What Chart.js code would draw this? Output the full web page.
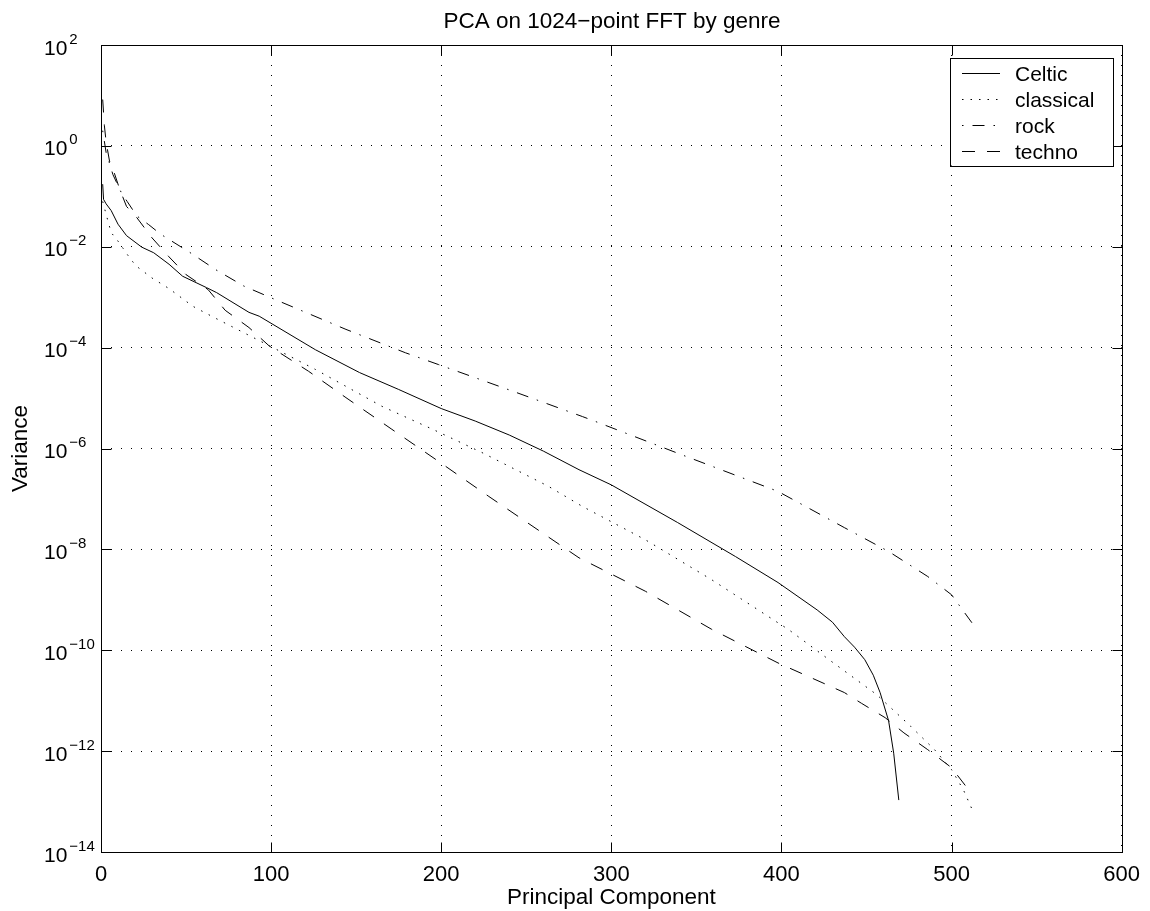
<!DOCTYPE html>
<html>
<head>
<meta charset="utf-8">
<title>PCA on 1024-point FFT by genre</title>
<script src="https://cdn.jsdelivr.net/npm/chart.js@4.4.1/dist/chart.umd.min.js"></script>
<style>
  html, body { margin: 0; padding: 0; background: #fff; }
  #chart { display: block; }
</style>
</head>
<body>
<canvas id="chart" width="1150" height="911"></canvas>
<script>
// values: principal component index -> variance
const celticComp = [1, 1.5, 3, 6, 10, 15, 24, 31, 40, 48, 62, 68, 87, 93, 126, 152, 175, 200, 220, 240, 260, 281, 300, 339, 373, 398, 421, 430, 437, 443, 449, 454, 458, 463, 466, 469];
const celticVar = [1.74e-1, 8.7e-2, 7.1e-2, 5.2e-2, 2.8e-2, 1.66e-2, 9.8e-3, 7.6e-3, 4.5e-3, 2.6e-3, 1.55e-3, 1.23e-3, 5.0e-4, 4.2e-4, 9.1e-5, 3.2e-5, 1.48e-5, 6.2e-6, 3.5e-6, 1.85e-6, 8.9e-7, 3.8e-7, 1.9e-7, 3.4e-8, 7.2e-9, 2.2e-9, 6.3e-10, 3.6e-10, 1.86e-10, 1.15e-10, 6.5e-11, 3.2e-11, 1.45e-11, 4.0e-12, 9.1e-13, 1.07e-13];

const classicalComp = [1, 3, 6, 9.4, 12.5, 16.6, 20.5, 30, 40, 54, 65, 107, 126, 165, 195, 224, 263, 283, 320, 359, 398, 404, 428, 456, 476, 490, 500, 507, 512];
const classicalVar = [7.9e-2, 4.4e-2, 1.9e-2, 1.38e-2, 9.8e-3, 6.2e-3, 4.2e-3, 2.4e-3, 1.48e-3, 6.6e-4, 4.2e-4, 7.9e-5, 3.7e-5, 6.9e-6, 2.4e-6, 8.3e-7, 1.78e-7, 7.1e-8, 1.55e-8, 2.5e-9, 3.5e-10, 2.6e-10, 6.5e-11, 1.32e-11, 3.1e-12, 1.07e-12, 4.3e-13, 1.7e-13, 7.1e-14];

const rockComp = [1, 3, 5, 7, 12, 15.4, 21, 28, 35, 52, 67.5, 84, 102, 144, 179, 198.5, 240, 283, 292, 341, 398, 437, 463, 486, 500, 512];
const rockVar = [2.0, 7.4e-1, 4.5e-1, 2.7e-1, 1.17e-1, 7.9e-2, 4.1e-2, 2.75e-2, 1.78e-2, 7.8e-3, 3.5e-3, 1.66e-3, 9.1e-4, 2.3e-4, 7.9e-5, 4.6e-5, 1.45e-5, 4.3e-6, 3.3e-6, 7.6e-7, 1.41e-7, 2.7e-8, 9.1e-9, 2.9e-9, 1.26e-9, 3.5e-10];

const technoComp = [1, 2, 3, 5, 7, 11, 15, 21, 30, 40, 50, 63, 73, 87, 99, 122, 144, 171, 197, 228, 281, 298, 320, 359, 398, 418, 437, 447, 461, 472, 486, 500, 508.5, 510];
const technoVar = [8.3, 2.5, 1.2, 5.0e-1, 3.5e-1, 1.38e-1, 6.3e-2, 3.8e-2, 1.5e-2, 6.3e-3, 2.8e-3, 1.41e-3, 5.5e-4, 2.5e-4, 1.07e-4, 3.4e-5, 1.02e-5, 2.4e-6, 6.0e-7, 1.12e-7, 6.8e-9, 3.5e-9, 1.48e-9, 2.6e-10, 5.6e-11, 2.8e-11, 1.45e-11, 8.9e-12, 4.6e-12, 2.3e-12, 1.07e-12, 4.7e-13, 2.0e-13, 1.8e-13];

const seriesNames = ['Celtic', 'classical', 'rock', 'techno'];
const xTicks = [0, 100, 200, 300, 400, 500, 600];
const yTickExp = [2, 0, -2, -4, -6, -8, -10, -12, -14];

const FONT = "'Liberation Sans', Arial, Helvetica, sans-serif";

function pts(xs, ys) {
    return xs.map((x, i) => ({x: x, y: ys[i]}));
}

function lineSet(label, xs, ys, dash) {
    return {
        label: label,
        data: pts(xs, ys),
        borderColor: '#000',
        borderWidth: 1,
        borderDash: dash,
        pointRadius: 0,
        fill: false,
        tension: 0
    };
}

// box, inward ticks, y labels with exponents, title and legend
const framePlugin = {
    id: 'frame',
    afterDraw(chart) {
        const ctx = chart.ctx;
        const a = chart.chartArea;
        const xs = chart.scales.x, ys = chart.scales.y;
        const L = Math.round(a.left) + 0.5, R = Math.round(a.right) + 0.5;
        const T = Math.round(a.top) + 0.5, B = Math.round(a.bottom) + 0.5;
        ctx.save();
        ctx.strokeStyle = '#000';
        ctx.fillStyle = '#000';
        ctx.lineWidth = 1;
        ctx.setLineDash([]);
        ctx.strokeRect(L, T, R - L, B - T);

        ctx.beginPath();
        xs.ticks.forEach(t => {
            const px = Math.round(xs.getPixelForValue(t.value)) + 0.5;
            ctx.moveTo(px, B); ctx.lineTo(px, B - 10);
            ctx.moveTo(px, T); ctx.lineTo(px, T + 10);
        });
        ys.ticks.forEach(t => {
            const py = Math.round(ys.getPixelForValue(t.value)) + 0.5;
            ctx.moveTo(L, py); ctx.lineTo(L + 10, py);
            ctx.moveTo(R, py); ctx.lineTo(R - 10, py);
        });
        ctx.stroke();

        // y tick labels: 10 with raised exponent
        ctx.textAlign = 'left';
        ctx.textBaseline = 'alphabetic';
        ys.ticks.forEach(t => {
            const py = ys.getPixelForValue(t.value);
            const e = Math.round(Math.log10(t.value));
            ctx.font = '21px ' + FONT;
            ctx.fillText('10', 44, py + 9.5);
            const w = ctx.measureText('10').width;
            ctx.font = '15px ' + FONT;
            ctx.fillText(e < 0 ? '\u2212' + (-e) : String(e), 44 + w + 2, py - 1.5);
        });

        // title
        ctx.font = '22.5px ' + FONT;
        ctx.textAlign = 'center';
        ctx.fillText('PCA on 1024\u2212point FFT by genre', (L + R) / 2, 28);

        // legend box in the upper right corner
        const bx = R - 172.5, by = T + 12, bw = 163, bh = 108;
        ctx.fillStyle = '#fff';
        ctx.fillRect(bx, by, bw, bh);
        ctx.strokeRect(Math.round(bx) + 0.5, Math.round(by) + 0.5, bw, bh);
        ctx.fillStyle = '#000';
        ctx.textAlign = 'left';
        ctx.font = '21px ' + FONT;
        chart.data.datasets.forEach((ds, i) => {
            const ry = Math.round(by + 15 + i * 26) + 0.5;
            ctx.setLineDash(ds.borderDash || []);
            ctx.beginPath();
            ctx.moveTo(bx + 12, ry);
            ctx.lineTo(bx + 50, ry);
            ctx.stroke();
            ctx.setLineDash([]);
            ctx.fillText(ds.label, bx + 65, ry + 7);
        });
        ctx.restore();
    }
};

const chart = new Chart(document.getElementById('chart'), {
    type: 'line',
    data: {
        datasets: [
            lineSet(seriesNames[0], celticComp, celticVar, []),
            lineSet(seriesNames[1], classicalComp, classicalVar, [1.5, 7]),
            lineSet(seriesNames[2], rockComp, rockVar, [1.5, 9, 12, 9]),
            lineSet(seriesNames[3], technoComp, technoVar, [13, 12])
        ]
    },
    options: {
        responsive: false,
        animation: false,
        devicePixelRatio: 1,
        layout: { padding: { top: 45, right: 28, left: 0, bottom: 0 } },
        plugins: {
            legend: { display: false },
            title: { display: false },
            tooltip: { enabled: false }
        },
        scales: {
            x: {
                type: 'linear',
                min: 0,
                max: 600,
                afterBuildTicks: s => { s.ticks = xTicks.map(v => ({value: v})); },
                afterFit: s => { s.height = 59; },
                grid: { color: '#000', lineWidth: 1, drawTicks: false },
                border: { display: false, dash: [1, 9] },
                ticks: {
                    color: '#000',
                    font: { family: FONT, size: 22 },
                    padding: 10,
                    maxRotation: 0,
                    autoSkip: false
                },
                title: {
                    display: true,
                    text: 'Principal Component',
                    color: '#000',
                    font: { family: FONT, size: 22.5, lineHeight: 1.2 },
                    padding: { top: 0, bottom: 0 }
                }
            },
            y: {
                type: 'logarithmic',
                min: 1e-14,
                max: 1e2,
                afterBuildTicks: s => { s.ticks = yTickExp.map(e => ({value: Math.pow(10, e)})); },
                afterFit: s => { s.width = 101; },
                grid: { color: '#000', lineWidth: 1, drawTicks: false },
                border: { display: false, dash: [1, 9] },
                ticks: { display: false },
                title: {
                    display: true,
                    text: 'Variance',
                    color: '#000',
                    font: { family: FONT, size: 22.5, lineHeight: 1.2 },
                    padding: { top: 7, bottom: 0 }
                }
            }
        }
    },
    plugins: [framePlugin]
});
</script>
</body>
</html>
